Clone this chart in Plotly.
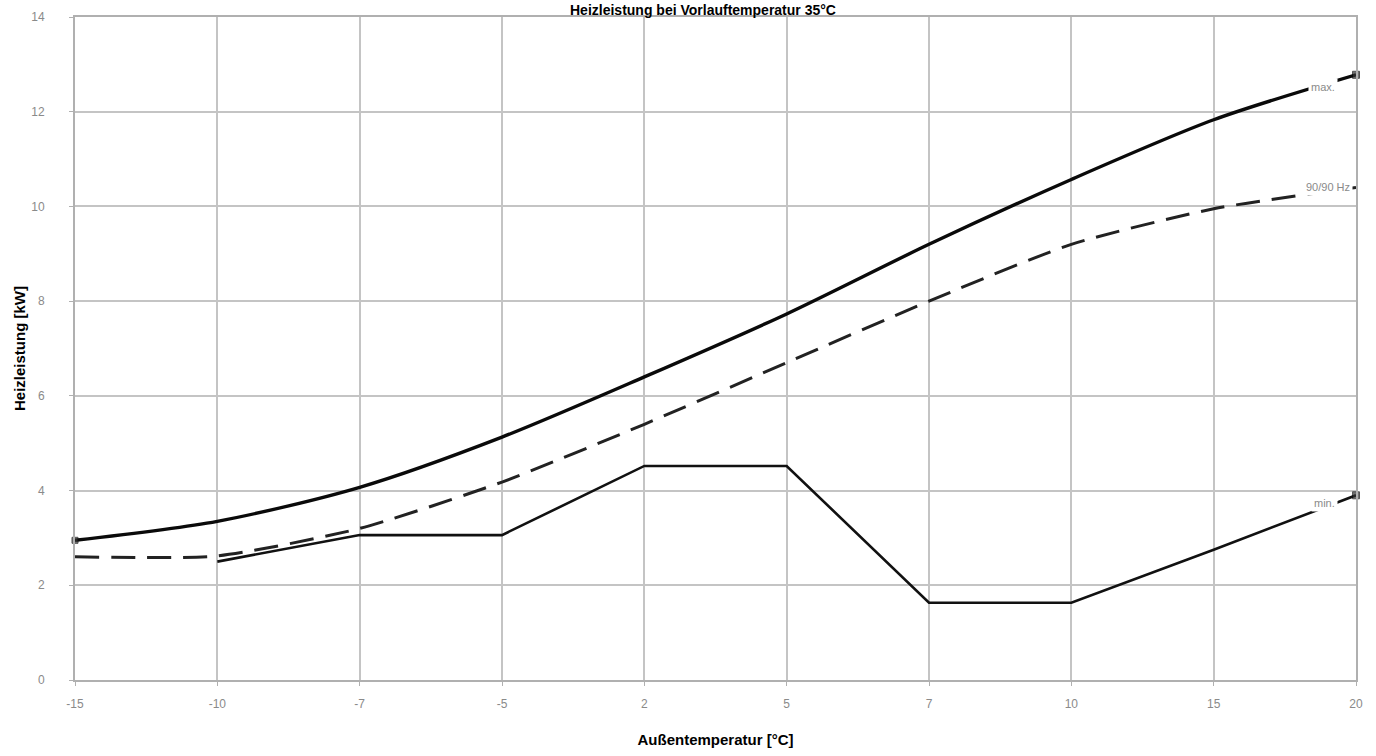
import plotly.graph_objects as go

categories = ["-15", "-10", "-7", "-5", "2", "5", "7", "10", "15", "20"]
max_values = [2.95, 3.35, 4.07, 5.13, 6.40, 7.73, 9.20, 10.57, 11.83, 12.78]
hz_values = [2.60, 2.62, 3.20, 4.18, 5.40, 6.70, 8.00, 9.20, 9.95, 10.40]
min_values = [None, 2.50, 3.06, 3.06, 4.52, 4.52, 1.63, 1.63, 2.75, 3.90]
y_ticks = [0, 2, 4, 6, 8, 10, 12, 14]

FONT = "Liberation Sans, Arial"

fig = go.Figure()
fig.add_trace(go.Scatter(
    x=categories, y=min_values, mode="lines+markers",
    line=dict(color="#111111", width=2.6),
    marker=dict(size=[0]*9 + [7], color="#333333", symbol="square"),
    connectgaps=False, showlegend=False, cliponaxis=False, hoverinfo="skip"))
fig.add_trace(go.Scatter(
    x=categories, y=hz_values, mode="lines",
    line=dict(color="#222222", width=3, dash="24px,12px", shape="spline", smoothing=0.6),
    showlegend=False, hoverinfo="skip"))
fig.add_trace(go.Scatter(
    x=categories, y=max_values, mode="lines+markers",
    line=dict(color="#0a0a0a", width=3.4, shape="spline", smoothing=0.8),
    marker=dict(size=[6] + [0]*8 + [7], color="#333333", symbol="square"),
    showlegend=False, cliponaxis=False, hoverinfo="skip"))

last = len(categories) - 1
labels = [("max.", max_values[last], -18, -12),
          ("90/90 Hz", hz_values[last], -3, 0),
          ("min.", min_values[last], -18, -8)]
for txt, yv, dx, dy in labels:
    fig.add_annotation(x=last, y=yv, xref="x", yref="y", text=txt, showarrow=False,
                       xanchor="right", xshift=dx, yshift=dy,
                       font=dict(family=FONT, size=11, color="#8a8a8a"),
                       bgcolor="white", borderpad=2)

fig.add_annotation(xref="paper", yref="paper", x=0.49, y=1 + 17 / 663, yanchor="top",
                   text="<b>Heizleistung bei Vorlauftemperatur 35°C</b>", showarrow=False,
                   font=dict(family=FONT, size=14, color="#000000"))

fig.update_layout(
    width=1376, height=756,
    margin=dict(l=75, r=20, t=17, b=76, autoexpand=False),
    plot_bgcolor="white", paper_bgcolor="white",
    hovermode=False,
    xaxis=dict(type="category", categoryorder="array", categoryarray=categories,
               range=[0, last], showgrid=True, gridcolor="#c4c4c4", gridwidth=2,
               showline=True, linecolor="#b0b0b0", linewidth=2, mirror=True,
               ticks="outside", ticklen=4, tickcolor="#b0b0b0",
               ticklabelstandoff=8, automargin=False,
               tickfont=dict(family=FONT, size=12, color="#8a8a8a"),
               title=dict(text="<b>Außentemperatur [°C]</b>", standoff=24,
                          font=dict(family=FONT, size=15, color="#000000")),
               zeroline=False),
    yaxis=dict(range=[0, 14], tickvals=y_ticks, showgrid=True, gridcolor="#c4c4c4", gridwidth=2,
               showline=True, linecolor="#b0b0b0", linewidth=2, mirror=True,
               ticks="outside", ticklen=4, tickcolor="#b0b0b0",
               ticklabelstandoff=22, automargin=False,
               tickfont=dict(family=FONT, size=12, color="#8a8a8a"),
               title=dict(text="<b>Heizleistung [kW]</b>", standoff=2,
                          font=dict(family=FONT, size=15, color="#000000")),
               zeroline=False),
)

fig.write_html("out.html", config={"displayModeBar": False},
               post_script="document.body.style.margin='0px';")
